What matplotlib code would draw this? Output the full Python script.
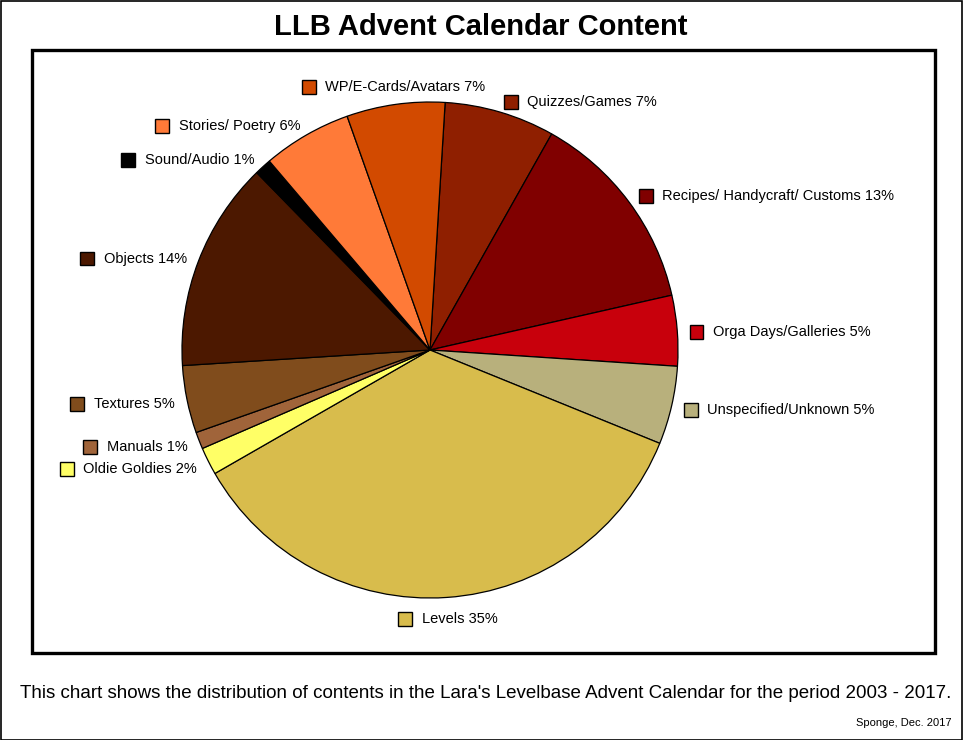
import numpy as np
import matplotlib
matplotlib.use("Agg")
import matplotlib.pyplot as plt
from matplotlib.patches import Rectangle
from matplotlib.offsetbox import AnnotationBbox, HPacker, DrawingArea, TextArea

plt.rcParams['font.family'] = ['Liberation Sans', 'DejaVu Sans']

# ---- data (clockwise from top) ----
categories = ["Quizzes/Games", "Recipes/ Handycraft/ Customs", "Orga Days/Galleries",
              "Unspecified/Unknown", "Levels", "Oldie Goldies", "Manuals", "Textures",
              "Objects", "Sound/Audio", "Stories/ Poetry", "WP/E-Cards/Avatars"]
values = [7.2, 13.3, 4.6, 5.1, 35.6, 1.8, 1.1, 4.4, 13.7, 1.1, 5.8, 6.4]
pct_labels = ["7%", "13%", "5%", "5%", "35%", "2%", "1%", "5%", "14%", "1%", "6%", "7%"]
colors = ["#8F1F00", "#800000", "#C8000C", "#B8B07C", "#D8BC4C", "#FFFF66",
          "#A0643A", "#804C1C", "#4C1800", "#000000", "#FF7A38", "#D24A00"]

W, H = 963, 740
fig = plt.figure(figsize=(W / 100, H / 100), dpi=100)
ax = fig.add_axes([0, 0, 1, 1])

cx, cy, R = 430, H - 350, 248
wedges, _ = ax.pie(values, colors=colors, startangle=86.5, counterclock=False,
                   center=(cx, cy), radius=R,
                   wedgeprops=dict(edgecolor="black", linewidth=0.9))
ax.set_aspect('auto')
ax.set_xlim(0, W)
ax.set_ylim(0, H)
ax.axis('off')

# outer border and inner frame
ax.add_patch(Rectangle((0.5, 0.5), W - 1.5, H - 1.5, fill=False, edgecolor="black",
                       linewidth=1.2, clip_on=False))
ax.add_patch(Rectangle((32, H - 653), 935 - 32, 653 - 50, fill=False,
                       edgecolor="black", linewidth=2.4))

# labels with colour keys
rl = R * 1.05
for w, cat, pl, col in zip(wedges, categories, pct_labels, colors):
    th = np.deg2rad((w.theta1 + w.theta2) / 2)
    px, py = cx + rl * np.cos(th), cy + rl * np.sin(th) - 2
    da = DrawingArea(10, 10, 0, 0)
    da.add_artist(Rectangle((0, 0), 10, 10, facecolor=col, edgecolor="black", linewidth=1))
    ta = TextArea(f"{cat} {pl}", textprops=dict(size=10.5, color="black"))
    pack = HPacker(children=[da, ta], align="center", pad=0, sep=7)
    c, s = np.cos(th), np.sin(th)
    if c > 0.25:
        ba = (0, 0.5)
    elif c < -0.25:
        ba = (1, 0.5)
    else:
        ba = (0.5, 0.0 if s > 0 else 1.0)
    ab = AnnotationBbox(pack, (px, py), xycoords='data', box_alignment=ba,
                        frameon=False, pad=0, annotation_clip=False)
    ax.add_artist(ab)

ax.text(481, H - 27, "LLB Advent Calendar Content", ha="center", va="center",
        fontsize=21, fontweight="bold")
ax.text(486, H - 693, "This chart shows the distribution of contents in the Lara's Levelbase "
        "Advent Calendar for the period 2003 - 2017.", ha="center", va="center", fontsize=13.5)
ax.text(952, H - 723, "Sponge, Dec. 2017", ha="right", va="center", fontsize=8)

fig.savefig("out.png", dpi=100)
